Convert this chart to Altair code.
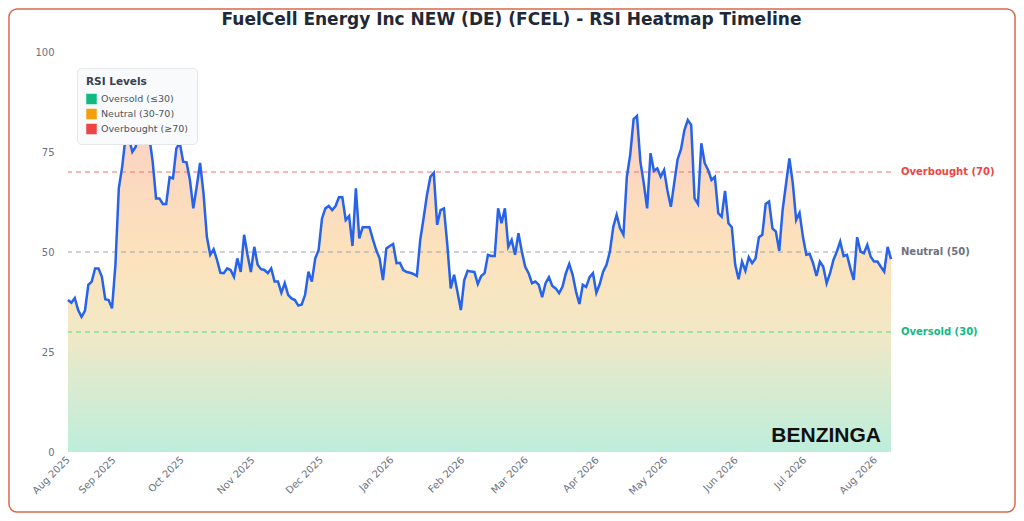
import altair as alt
import pandas as pd

rsi_values = [
    38, 37.3, 38.5, 35.5, 33.8, 35.3, 41.8, 42.6, 45.9, 45.9, 43.8, 38.2, 38, 35.9, 46.8, 65.9,
    71.3, 78.8, 78.5, 75, 76.3, 81.3, 84.5, 88, 78.8, 72.6, 63.4, 63.4, 62, 62, 68.7, 68.4, 75.9,
    77.3, 72.6, 72.4, 68, 60.9, 66.3, 72.3, 64.7, 53.8, 49.3, 50.7, 48, 44.8, 44.7, 45.9, 45.5,
    43.8, 48.4, 45, 54.3, 49.3, 45, 51.3, 46.8, 45.7, 45.5, 44.7, 45.9, 42.6,
    42.6, 39.8, 42.2, 39.3, 38.4, 38, 36.6, 36.9, 39.3, 45.1, 42.6, 48.4, 50.5, 58.4, 60.9, 61.5,
    60.5, 61.5, 63.7, 63.7, 58, 59, 51.5, 65.9, 53.4, 56.2, 56.2, 56.2, 53.2, 50.5, 48.4, 43, 50.9,
    51.5, 52, 47.2, 47.3, 45.5, 45, 44.8, 44.5, 44, 53, 58.5, 64.3, 68.8, 69.8, 56.8, 60.5, 60.9,
    51.8, 40.9, 44.3, 40, 35.5, 43, 45.3, 45.1, 45, 42, 44, 44.7,
    49.3, 49, 49, 60.9, 57.2, 60.9, 51.3, 53, 49.3, 54.7, 50.1, 46.3, 44.7, 42.2, 42.6, 41.8, 38.7,
    42.2, 43.7, 41.5, 40.9, 39.7, 41.3, 44.7, 47, 44.3, 40.1, 37, 41.8, 41.3, 43.7, 44.7, 39.8, 42,
    45.1, 46.8, 50.1, 56.3, 59.3, 55.9, 54.3, 68.8, 74.3, 83.2, 84, 72.6, 67.2, 60.9, 74.7, 70.3,
    70.9, 68.8, 70.5, 65.3, 61.3, 67.3, 73.2, 75.7, 80.5, 83, 81.8, 63.4, 62,
    77.2, 72.2, 70.5, 68, 68.8, 59.7, 58.8, 65.3, 57.2, 56.2, 46.8, 43.2, 47.6, 45.3, 48.7, 47.2,
    48.4, 53.7, 54.3, 62, 62.6, 55.9, 55.1, 50.3, 60.5, 67, 73.4, 67.2, 58, 59.8, 53.8, 49.3, 49.5,
    47.2, 44, 47.6, 46.3, 42.2, 44.7, 48, 50.1, 52.6, 49, 49.3, 45.9, 43, 53.7, 50.1, 49.7, 51.8,
    48.8, 47.6, 47.6, 46.3, 45.1, 51.3, 48.2,
]
start_date, end_date = "2025-08-12", "2026-08-08"
dates = pd.date_range(start_date, end_date, periods=len(rsi_values))
df = pd.DataFrame({"date": dates, "rsi": rsi_values})

# tick positions: first data day, then the first of each month
tick_dates = [start_date, "2025-09-01", "2025-10-01", "2025-11-01", "2025-12-01", "2026-01-01",
              "2026-02-01", "2026-03-01", "2026-04-01", "2026-05-01", "2026-06-01",
              "2026-07-01", "2026-08-01"]

levels = [70, 50, 30]
level_labels = ["Overbought (70)", "Neutral (50)", "Oversold (30)"]
level_colors = ["#f87171", "#9ca3af", "#4ade80"]
label_colors = ["#ef4444", "#6b7280", "#10b981"]
df_levels = pd.DataFrame({"y": levels, "label": level_labels, "line": level_colors, "text": label_colors})

legend_names = ["Oversold (≤30)", "Neutral (30-70)", "Overbought (≥70)"]
legend_colors = ["#10b981", "#f59e0b", "#ef4444"]
df_legend = pd.DataFrame({"level": legend_names, "date": [dates[0]] * 3, "rsi": [50] * 3})

title_text = "FuelCell Energy Inc NEW (DE) (FCEL) - RSI Heatmap Timeline"

W, H = 823, 400

x_axis = alt.X("date:T", title=None, axis=alt.Axis(
    format="%b %Y", values=[alt.DateTime(year=int(d[:4]), month=int(d[5:7]), date=int(d[8:]))
                            for d in tick_dates],
    labelAngle=-45, labelAlign="right", labelBaseline="middle",
    labelColor="#6b7280", labelFontSize=10, grid=False, domain=False, ticks=False,
    labelPadding=6, zindex=2, labelOverlap=False))
y_scale = alt.Scale(domain=[0, 100])

one = pd.DataFrame({"a": [0]})

border = alt.Chart(one).mark_rect(
    fill="white", stroke="#d9694a", strokeWidth=1.5, cornerRadius=8
).encode(x=alt.value(-59), x2=alt.value(W + 124), y=alt.value(-43), y2=alt.value(H + 60))

title = alt.Chart(one).mark_text(
    text=title_text, fontSize=17, fontWeight="bold", color="#1f2937", align="center"
).encode(x=alt.value(W / 2 + 32), y=alt.value(-32))

area = alt.Chart(df).mark_area(
    opacity=0.75,
    color=alt.Gradient(gradient="linear", x1=1, x2=1, y1=1, y2=0, stops=[
        alt.GradientStop(color="#a7e8d0", offset=0),
        alt.GradientStop(color="#eee0b2", offset=0.35),
        alt.GradientStop(color="#fbd9a6", offset=0.55),
        alt.GradientStop(color="#f9bfae", offset=1),
    ])
).encode(x=x_axis, y=alt.Y("rsi:Q", scale=y_scale, title=None, axis=alt.Axis(
    values=[0, 25, 50, 75, 100], labelColor="#6b7280", labelFontSize=10, grid=False,
    domain=False, ticks=False, labelPadding=14, zindex=2)))

rules = alt.Chart(df_levels).mark_rule(strokeDash=[5, 4], strokeWidth=1.2).encode(
    y=alt.Y("y:Q", scale=y_scale), color=alt.Color("line:N", scale=None))

rule_text = alt.Chart(df_levels).mark_text(align="left", fontWeight="bold", fontSize=10).encode(
    x=alt.value(W + 10), y=alt.Y("y:Q", scale=y_scale), text="label:N",
    color=alt.Color("text:N", scale=None))

line = alt.Chart(df).mark_line(color="#2563eb", strokeWidth=2.5).encode(
    x="date:T", y=alt.Y("rsi:Q", scale=y_scale))

legend_layer = alt.Chart(df_legend).mark_square(opacity=0, size=0).encode(
    x="date:T", y=alt.Y("rsi:Q", scale=y_scale),
    color=alt.Color("level:N", sort=legend_names,
                    scale=alt.Scale(domain=legend_names, range=legend_colors),
                    legend=alt.Legend(title="RSI Levels", orient="none", legendX=9, legendY=16,
                                      fillColor="#f9fafb", strokeColor="#e5e7eb", cornerRadius=4,
                                      padding=9, titleFontSize=10.5, titleColor="#374151",
                                      titlePadding=6, labelFontSize=9.5, labelColor="#4b5563",
                                      symbolType="square", symbolSize=110, symbolOpacity=1,
                                      symbolStrokeWidth=0, rowPadding=4, labelOffset=4,
                                      labelLimit=200, zindex=3)))

logo = alt.Chart(one).mark_text(
    text="BENZINGA", fontSize=21, fontWeight="bold", font="Liberation Sans", color="#111111", align="right"
).encode(x=alt.value(W - 10), y=alt.value(H - 16))

chart = alt.layer(border, title, area, rules, line, rule_text, legend_layer, logo).properties(
    width=W, height=H,
    autosize=alt.AutoSizeParams(type="none"),
    padding={"left": 60, "top": 44, "right": 125, "bottom": 61},
).configure_view(stroke=None).configure(font="DejaVu Sans")

chart.save("out.html", embed_options={"renderer": "svg", "actions": False})
